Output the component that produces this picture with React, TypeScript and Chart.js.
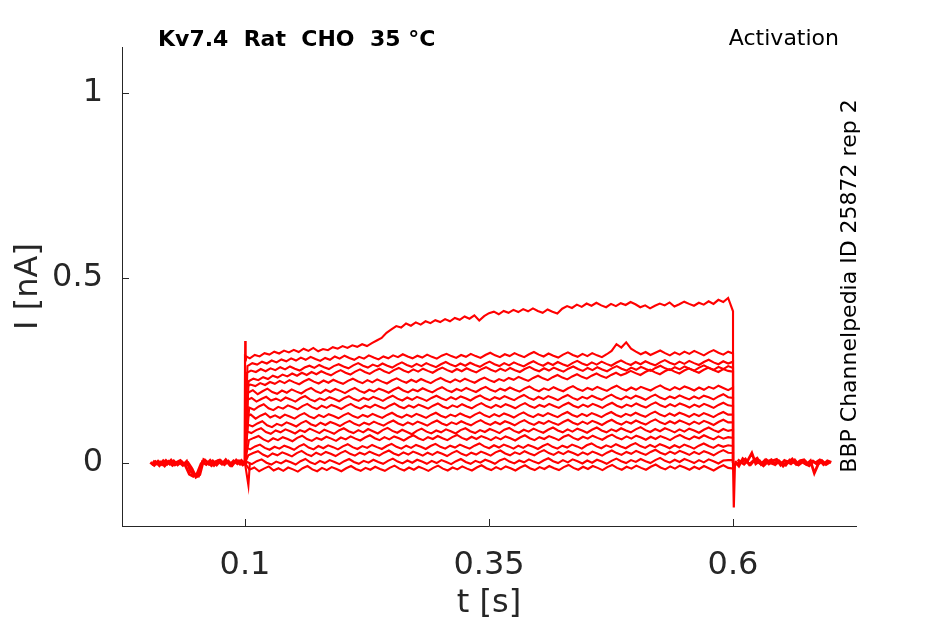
import React, { useEffect, useRef } from "react";
import { Chart, registerables } from "chart.js";

Chart.register(...registerables);

// axes
const xTicks = [0.1, 0.35, 0.6];
const yTicks = [0, 0.5, 1];
const xRange = [-0.026, 0.726];
const yRange = [-0.17, 1.124];

// step protocol, seconds
const pulseOn = 0.1;
const pulseOff = 0.6;
const preStart = 0.003;
const postStart = 0.602;
const baseStep = 0.004;

// recorded currents during the step, pA, sampled every 5 ms from 0.1 to 0.6 s
const trace01 = [290, 283, 292, 288, 297, 293, 301, 296, 304, 299, 306, 300, 309, 303, 311, 302, 308, 305, 313, 309, 316, 311, 318, 314, 321, 316, 324, 331, 338, 352, 361, 370, 366, 377, 371, 380, 374, 383, 378, 386, 381, 389, 383, 392, 387, 396, 390, 399, 385, 397, 405, 409, 402, 411, 406, 414, 408, 416, 410, 418, 411, 406, 415, 409, 404, 417, 424, 419, 428, 422, 431, 425, 433, 426, 421, 430, 424, 432, 427, 435, 429, 421, 426, 418, 425, 431, 426, 434, 423, 429, 436, 430, 425, 433, 428, 437, 430, 441, 435, 446, 410];
const trace02 = [262, 270, 266, 274, 269, 277, 272, 280, 275, 283, 277, 285, 279, 287, 281, 276, 284, 279, 288, 282, 290, 284, 279, 287, 282, 291, 285, 280, 288, 283, 291, 286, 294, 288, 283, 290, 285, 293, 287, 282, 290, 295, 289, 284, 292, 287, 295, 289, 284, 292, 298, 291, 286, 294, 289, 297, 291, 286, 294, 300, 293, 288, 296, 290, 285, 293, 299, 292, 287, 295, 289, 297, 291, 286, 294, 303, 321, 312, 326, 309, 301, 294, 300, 292, 298, 304, 297, 291, 299, 293, 301, 295, 303, 297, 291, 299, 305, 298, 293, 301, 296];
const trace03 = [243, 250, 246, 254, 248, 256, 251, 259, 253, 261, 255, 250, 258, 263, 257, 265, 259, 254, 262, 267, 261, 256, 264, 270, 263, 258, 266, 261, 269, 263, 258, 266, 272, 265, 260, 268, 262, 270, 264, 259, 267, 273, 266, 261, 269, 263, 271, 265, 260, 268, 274, 267, 262, 270, 264, 272, 266, 261, 269, 275, 268, 263, 271, 265, 273, 267, 262, 270, 276, 269, 264, 272, 266, 274, 268, 263, 271, 277, 270, 265, 273, 267, 275, 269, 264, 272, 278, 271, 266, 274, 268, 276, 270, 265, 273, 279, 272, 267, 275, 269, 274];
const trace04 = [221, 228, 224, 232, 227, 236, 231, 239, 234, 242, 236, 244, 238, 246, 240, 248, 242, 237, 245, 251, 244, 239, 247, 253, 246, 241, 249, 255, 248, 243, 251, 257, 250, 245, 253, 247, 255, 249, 244, 252, 258, 251, 246, 254, 248, 256, 250, 245, 253, 259, 252, 247, 255, 249, 257, 251, 246, 254, 260, 253, 248, 256, 250, 258, 252, 247, 255, 261, 254, 249, 257, 251, 259, 253, 248, 256, 262, 255, 250, 258, 252, 260, 254, 249, 257, 263, 256, 251, 259, 253, 261, 255, 250, 258, 264, 257, 252, 260, 254, 262, 257];
const trace05 = [205, 212, 208, 216, 211, 219, 214, 222, 216, 224, 218, 213, 221, 227, 220, 215, 223, 217, 225, 219, 214, 222, 228, 221, 216, 224, 218, 226, 220, 215, 223, 229, 222, 217, 225, 219, 227, 221, 216, 224, 230, 223, 218, 226, 220, 228, 222, 217, 225, 231, 224, 219, 227, 222, 230, 225, 233, 227, 222, 230, 236, 229, 224, 232, 238, 231, 226, 234, 240, 233, 228, 236, 242, 235, 230, 238, 244, 237, 242, 249, 243, 238, 246, 252, 245, 240, 248, 254, 247, 242, 250, 256, 249, 244, 252, 258, 251, 246, 254, 249, 247];
const trace06 = [190, 197, 186, 194, 201, 192, 187, 196, 190, 199, 193, 188, 197, 203, 194, 189, 198, 192, 200, 195, 189, 197, 203, 195, 190, 198, 193, 201, 196, 190, 198, 204, 196, 191, 199, 194, 202, 196, 191, 199, 205, 197, 192, 200, 195, 203, 197, 192, 200, 206, 198, 193, 201, 196, 204, 198, 193, 201, 207, 199, 194, 202, 197, 205, 199, 194, 202, 208, 200, 195, 203, 198, 206, 200, 195, 203, 209, 201, 196, 204, 198, 206, 201, 196, 204, 210, 202, 197, 205, 199, 207, 202, 196, 204, 198, 206, 201, 209, 203, 197, 204];
const trace07 = [170, 176, 166, 173, 179, 169, 174, 168, 177, 172, 166, 175, 181, 172, 167, 175, 170, 178, 173, 167, 175, 181, 173, 168, 176, 171, 179, 174, 168, 176, 182, 174, 169, 177, 171, 179, 174, 168, 176, 182, 175, 170, 178, 172, 180, 175, 169, 177, 183, 175, 170, 178, 173, 181, 175, 170, 178, 184, 176, 171, 179, 173, 181, 176, 170, 178, 184, 176, 171, 179, 174, 182, 176, 171, 179, 185, 177, 172, 180, 174, 182, 177, 171, 179, 185, 177, 172, 180, 175, 183, 177, 172, 180, 174, 182, 178, 172, 180, 186, 178, 176];
const trace08 = [150, 144, 153, 159, 148, 143, 152, 147, 156, 151, 145, 154, 160, 151, 146, 155, 149, 157, 152, 146, 154, 160, 152, 147, 155, 150, 158, 152, 147, 155, 161, 153, 148, 156, 150, 158, 153, 147, 155, 161, 153, 148, 156, 151, 159, 153, 148, 156, 162, 154, 149, 157, 151, 159, 154, 148, 156, 162, 154, 149, 157, 152, 160, 154, 149, 157, 163, 155, 150, 158, 152, 160, 155, 149, 157, 163, 155, 150, 158, 153, 161, 155, 150, 158, 164, 156, 151, 159, 153, 161, 156, 150, 158, 152, 160, 155, 149, 157, 163, 156, 154];
const trace09 = [125, 131, 120, 128, 134, 123, 129, 122, 131, 126, 120, 129, 135, 126, 121, 130, 124, 132, 127, 121, 129, 135, 127, 122, 130, 125, 133, 127, 122, 130, 136, 128, 123, 131, 125, 133, 128, 122, 130, 136, 128, 123, 131, 126, 134, 128, 123, 131, 137, 129, 124, 132, 126, 134, 129, 123, 131, 137, 129, 124, 132, 127, 135, 129, 124, 132, 138, 130, 125, 133, 127, 135, 130, 124, 132, 138, 130, 125, 133, 128, 136, 130, 125, 133, 139, 131, 126, 134, 128, 136, 131, 125, 133, 127, 135, 130, 124, 132, 138, 131, 131];
const trace10 = [104, 99, 107, 113, 102, 97, 106, 101, 110, 105, 99, 108, 114, 105, 100, 109, 103, 111, 106, 100, 108, 114, 106, 101, 109, 104, 112, 106, 101, 109, 115, 107, 102, 110, 104, 112, 107, 101, 109, 115, 107, 102, 110, 105, 113, 107, 102, 110, 116, 108, 103, 111, 105, 113, 108, 102, 110, 116, 108, 103, 111, 106, 114, 108, 103, 111, 117, 109, 104, 112, 106, 114, 109, 103, 111, 117, 109, 104, 112, 107, 115, 109, 104, 112, 118, 110, 105, 113, 107, 115, 110, 104, 112, 106, 114, 109, 103, 111, 117, 110, 110];
const trace11 = [86, 81, 89, 94, 84, 79, 88, 83, 91, 86, 80, 89, 84, 93, 87, 81, 90, 85, 79, 88, 94, 86, 81, 89, 83, 92, 86, 80, 89, 95, 87, 82, 90, 84, 78, 87, 93, 85, 80, 88, 83, 91, 86, 80, 89, 94, 86, 81, 89, 84, 92, 87, 81, 90, 95, 87, 82, 90, 85, 93, 87, 82, 90, 96, 88, 83, 91, 85, 93, 88, 82, 90, 96, 88, 83, 91, 86, 94, 88, 83, 91, 97, 89, 84, 92, 86, 94, 89, 83, 91, 85, 93, 88, 82, 90, 96, 89, 84, 92, 87, 90];
const trace12 = [62, 68, 73, 64, 58, 67, 62, 70, 65, 59, 68, 74, 65, 60, 68, 63, 71, 66, 60, 69, 64, 72, 66, 61, 69, 75, 67, 62, 70, 64, 72, 67, 61, 69, 75, 67, 62, 70, 65, 73, 67, 62, 70, 76, 68, 63, 71, 65, 73, 68, 62, 70, 64, 72, 67, 61, 69, 75, 67, 62, 70, 65, 73, 68, 62, 71, 76, 68, 63, 71, 66, 74, 68, 63, 71, 77, 69, 64, 72, 66, 74, 69, 63, 71, 65, 73, 68, 62, 70, 76, 69, 64, 72, 67, 75, 69, 64, 72, 66, 70, 68];
const trace13 = [43, 37, 45, 50, 41, 36, 44, 39, 47, 42, 36, 45, 51, 42, 37, 46, 40, 48, 43, 37, 45, 51, 43, 38, 46, 41, 49, 43, 38, 46, 52, 44, 39, 47, 41, 49, 44, 38, 46, 52, 44, 39, 47, 42, 50, 44, 39, 47, 53, 45, 40, 48, 42, 50, 45, 39, 47, 41, 49, 44, 38, 46, 52, 44, 39, 47, 42, 50, 45, 39, 48, 53, 45, 40, 48, 43, 51, 45, 40, 48, 54, 46, 41, 49, 43, 51, 46, 40, 48, 42, 50, 45, 39, 47, 53, 46, 41, 49, 44, 48, 46];
const trace14 = [21, 27, 32, 23, 17, 26, 21, 29, 24, 18, 27, 33, 24, 19, 28, 22, 30, 25, 19, 27, 33, 25, 20, 28, 23, 31, 25, 20, 28, 34, 26, 21, 29, 23, 31, 26, 20, 28, 22, 30, 25, 19, 27, 33, 25, 20, 28, 23, 31, 26, 20, 29, 34, 26, 21, 29, 24, 32, 26, 21, 29, 35, 27, 22, 30, 24, 32, 27, 21, 29, 23, 31, 26, 20, 28, 34, 27, 22, 30, 25, 33, 27, 22, 30, 36, 28, 23, 31, 25, 33, 28, 22, 30, 24, 32, 27, 21, 29, 35, 28, 27];
const trace15 = [3, -3, 5, 10, 1, -4, 4, -1, 7, 2, -4, 5, 11, 2, -3, 6, 0, 8, 3, -3, 5, 11, 3, -2, 6, 1, 9, 3, -2, 6, 12, 4, -1, 7, 1, 9, 4, -2, 6, 0, 8, 3, -3, 5, 11, 3, -2, 6, 1, 9, 4, -2, 7, 12, 4, -1, 7, 2, 10, 4, -1, 7, 13, 5, 0, 8, 2, 10, 5, -1, 7, 1, 9, 4, -2, 6, 12, 5, 0, 8, 3, 11, 5, 0, 8, 14, 6, 1, 9, 3, 11, 6, 0, 8, 2, 10, 5, -1, 7, 8, 8];
const trace16 = [-18, -12, -22, -15, -9, -20, -14, -21, -12, -17, -23, -14, -8, -17, -22, -13, -19, -11, -16, -22, -14, -8, -16, -21, -13, -18, -10, -16, -21, -13, -7, -15, -20, -12, -18, -10, -15, -21, -13, -7, -15, -20, -12, -17, -9, -15, -20, -12, -6, -14, -19, -11, -17, -9, -14, -20, -12, -6, -14, -19, -11, -16, -8, -14, -19, -11, -5, -13, -18, -10, -16, -8, -13, -19, -11, -5, -13, -18, -10, -15, -7, -13, -18, -10, -4, -12, -17, -9, -15, -7, -12, -18, -10, -16, -8, -14, -20, -12, -6, -13, -15];
const stepTraces = [trace01, trace02, trace03, trace04, trace05, trace06, trace07, trace08, trace09, trace10, trace11, trace12, trace13, trace14, trace15, trace16];
// each sweep's sampling clock is offset a little from the step onset, s
const samplePhase = [0, 0.0025, 0.0012, 0.0037, 0.0006, 0.0031, 0.0018, 0.0043, 0.0009, 0.0028, 0.0015, 0.004, 0.0003, 0.0034, 0.0021, 0.0046];

// holding current before and after the step, pA, every 4 ms
const preA = [2, -6, 5, -4, 7, -3, 6, -5, 4, -7, -30, -36, -28, -2, 8, -3, 6, -5, 7, -4, 5, -6, 8, -3, 4];
const preB = [-5, 4, -7, 6, -3, 8, -5, 3, -6, 5, -22, -33, -35, 3, -4, 7, -6, 5, -3, 9, -5, 6, -2, 7, -4];
const preC = [6, -2, 3, -8, 4, -6, 2, 7, -4, 1, -15, -38, -31, 9, 2, -7, 4, 8, -2, 3, -7, 4, 6, -5, 2];
const postA = [5, -8, 12, 3, -4, 8, 2, -5, 9, 1, -3, 7, 0, -6, 8, 2, -4, 6, -1, -7, 5, -3, 7, -2, 4];
const postB = [-6, 4, -3, 8, 27, -2, 6, -7, 3, 9, -4, 5, -8, 4, -2, 8, -5, 3, -4, 6, -27, -3, 6, -4, 3];
const postC = [9, 2, 11, -4, 6, 13, -3, 8, -2, 6, 10, -5, 7, 2, 11, -3, 6, 9, -2, 5, 1, 8, -4, 6, 2];

// capacitive transients, s / pA
const onSpikeT = [0.0996, 0.1002, 0.1007, 0.1012];
const onSpikeI = [0, 330, 275, 285];
const onDipT = [0.1, 0.1035, 0.105];
const onDipI = [0, -60, 0];
const offSpikeT = [0.6, 0.6008, 0.602];
const offSpikeI = [0, -120, 0];

const INK = "#262626";
const RED = "#ff0000";
const FONT = "'DejaVu Sans', sans-serif";

const pts = (ts: number[], vals: number[]) => vals.map((v, i) => ({ x: ts[i], y: v / 1000 }));
const stepTimes = (n: number, phase: number) =>
  Array.from({ length: n }, (_, i) => pulseOn + phase + (i * (pulseOff - pulseOn - phase)) / (n - 1));
const baseTimes = (start: number, n: number) => Array.from({ length: n }, (_, i) => start + i * baseStep);

const annotations = {
  id: "annotations",
  afterDraw(chart: any) {
    const { ctx, chartArea, scales } = chart;
    ctx.save();
    ctx.strokeStyle = INK;
    ctx.lineWidth = 1;
    xTicks.forEach((v) => {
      const px = Math.round(scales.x.getPixelForValue(v)) + 0.5;
      ctx.beginPath();
      ctx.moveTo(px, chartArea.bottom);
      ctx.lineTo(px, chartArea.bottom - 7);
      ctx.stroke();
    });
    yTicks.forEach((v) => {
      const py = Math.round(scales.y.getPixelForValue(v)) + 0.5;
      ctx.beginPath();
      ctx.moveTo(chartArea.left, py);
      ctx.lineTo(chartArea.left + 7, py);
      ctx.stroke();
    });

    ctx.fillStyle = "#000";
    ctx.textBaseline = "middle";
    ctx.font = `bold 22px ${FONT}`;
    ctx.textAlign = "left";
    ctx.fillText("Kv7.4  Rat  CHO  35 °C", 158, 40);
    ctx.font = `22px ${FONT}`;
    ctx.textAlign = "right";
    ctx.fillText("Activation", 839, 39);
    ctx.translate(850, 286);
    ctx.rotate(-Math.PI / 2);
    ctx.textAlign = "center";
    ctx.fillText("BBP Channelpedia ID 25872 rep 2", 0, 0);
    ctx.restore();
  },
};

const App = () => {
  const chartRef: any = useRef(null);
  const chartInstance: any = useRef(null);

  useEffect(() => {
    if (!chartRef.current) return;
    const line = (data: any[], width = 2.1) => ({
      data,
      borderColor: RED,
      borderWidth: width,
      pointRadius: 0,
      tension: 0,
      fill: false,
    });

    const datasets: any[] = [
      line(pts(baseTimes(preStart, preA.length), preA), 2.8),
      line(pts(baseTimes(preStart + 0.0013, preB.length), preB), 2.8),
      line(pts(baseTimes(preStart + 0.0027, preC.length), preC), 2.8),
      line(pts(baseTimes(postStart, postA.length), postA), 2.8),
      line(pts(baseTimes(postStart + 0.0013, postB.length), postB), 2.8),
      line(pts(baseTimes(postStart + 0.0027, postC.length), postC), 2.8),
      ...stepTraces.map((tr, k) =>
        line([
          { x: pulseOn, y: 0 },
          ...pts(stepTimes(tr.length, samplePhase[k] || 0), tr),
          { x: pulseOff, y: 0 },
        ])
      ),
      line(pts(onSpikeT, onSpikeI)),
      line(pts(onDipT, onDipI)),
      line(pts(offSpikeT, offSpikeI), 2.2),
    ];

    chartInstance.current = new Chart(chartRef.current.getContext("2d"), {
      type: "line",
      data: { datasets },
      options: {
        animation: false,
        responsive: true,
        maintainAspectRatio: false,
        parsing: false,
        layout: { padding: { left: 0, top: 47, right: 89, bottom: 0 } },
        plugins: { legend: { display: false }, tooltip: { enabled: false } },
        scales: {
          x: {
            type: "linear",
            min: xRange[0],
            max: xRange[1],
            afterBuildTicks: (s: any) => {
              s.ticks = xTicks.map((value) => ({ value }));
            },
            afterFit: (s: any) => {
              s.height = 98;
            },
            grid: { display: false },
            border: { display: true, color: INK, width: 1 },
            ticks: {
              color: INK,
              font: { family: FONT, size: 32 },
              padding: 12,
              maxRotation: 0,
              callback: (v: any) => String(v),
            },
            title: {
              display: true,
              text: "t [s]",
              color: INK,
              font: { family: FONT, size: 32 },
              padding: { top: 0, bottom: 1 },
            },
          },
          y: {
            type: "linear",
            min: yRange[0],
            max: yRange[1],
            afterBuildTicks: (s: any) => {
              s.ticks = yTicks.map((value) => ({ value }));
            },
            afterFit: (s: any) => {
              s.width = 122;
            },
            grid: { display: false },
            border: { display: true, color: INK, width: 1 },
            ticks: {
              color: INK,
              font: { family: FONT, size: 32 },
              padding: 11,
              callback: (v: any) => String(v),
            },
            title: {
              display: true,
              text: "I [nA]",
              color: INK,
              font: { family: FONT, size: 32 },
              padding: { top: 9, bottom: 0 },
            },
          },
        },
      },
      plugins: [annotations],
    });

    return () => {
      if (chartInstance.current) chartInstance.current.destroy();
    };
  }, []);

  return (
    <div style={{ position: "fixed", left: 0, top: 0, width: 945, height: 624, background: "#fff" }}>
      <canvas ref={chartRef}></canvas>
    </div>
  );
};

export default App;
